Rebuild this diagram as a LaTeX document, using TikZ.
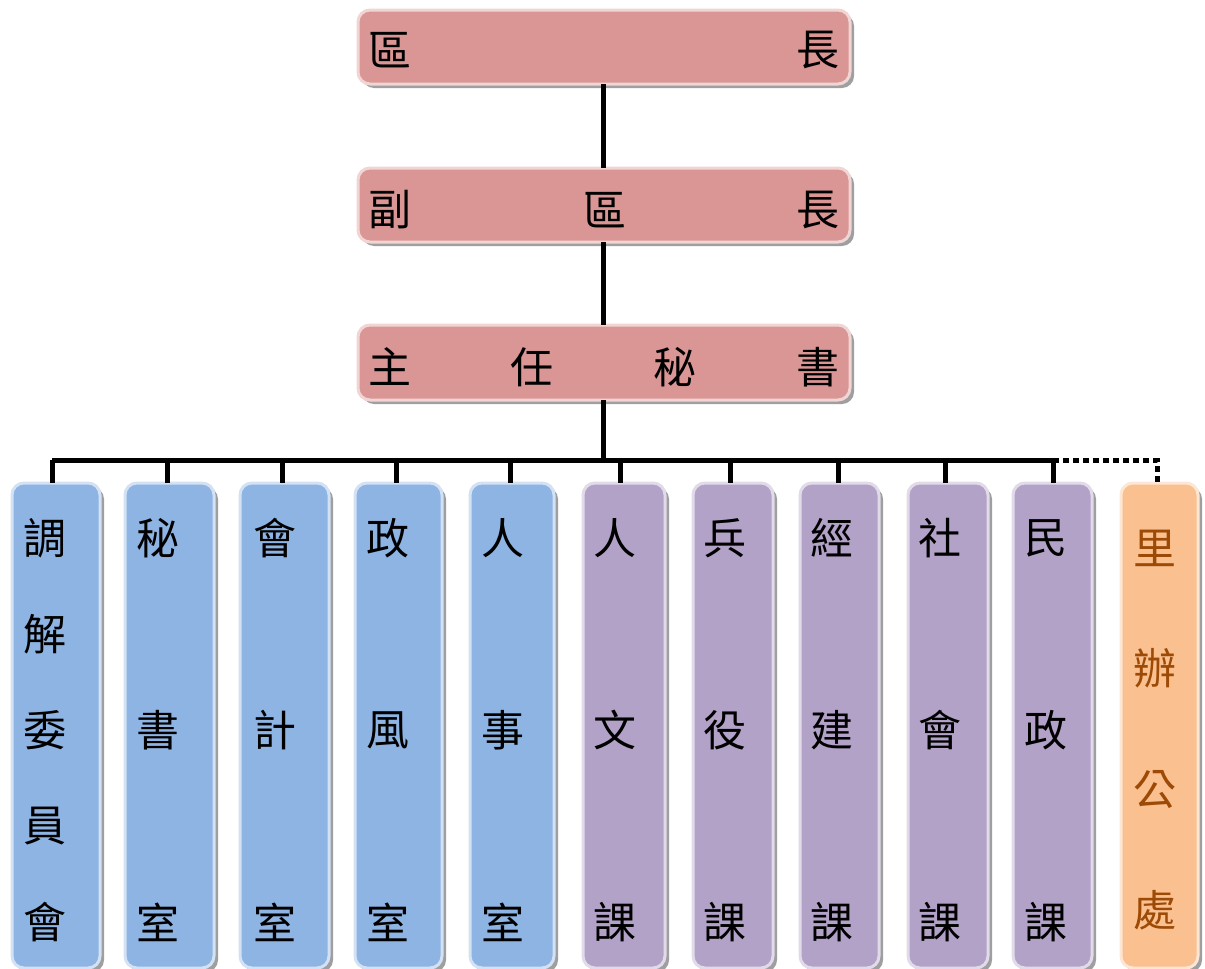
\documentclass[tikz,border=0pt]{standalone}
\usepackage{fontspec}
\newfontfamily\cjk{Noto Sans CJK TC}
\definecolor{cred}{HTML}{D99694}
\definecolor{cblue}{HTML}{8EB4E3}
\definecolor{cpurp}{HTML}{B3A2C7}
\definecolor{corng}{HTML}{FAC090}
\definecolor{ctxt}{HTML}{9C4A06}
\begin{document}
\begin{tikzpicture}[x=0.5pt,y=-0.5pt,
  cjkt/.style={font=\cjk\fontsize{21.5}{24}\selectfont, inner sep=0pt, anchor=center},
  bus/.style={line width=2.5pt},
  dotbus/.style={line width=2.5pt, dash pattern=on 3pt off 2pt}]
\useasboundingbox (0,0) rectangle (1205,969);
% box macro
\newcommand{\mybox}[6]{% name, x1,y1,x2,y2, color
  \fill[gray!75, rounded corners=6pt] (#2+4,#3+4) rectangle (#4+4,#5+4);
  \draw[#6!40!white, line width=1.5pt, fill=#6, rounded corners=6pt] (#2,#3) rectangle (#4,#5);
  \coordinate (#1) at ({(#2+#4)/2},#3);
  \coordinate (#1b) at ({(#2+#4)/2},#5);
}
% top boxes
\mybox{b1}{358}{10}{850}{84}{cred}
\mybox{b2}{358}{168}{850}{242}{cred}
\mybox{b3}{358}{325}{850}{400}{cred}
\node[cjkt] (t11) at (390,50) {區};
\node[cjkt] (t12) at (818,50) {長};
\node[cjkt] (t21) at (390,210) {副};
\node[cjkt] (t22) at (605,210) {區};
\node[cjkt] (t23) at (818,210) {長};
\node[cjkt] (t31) at (390,367) {主};
\node[cjkt] (t32) at (532,367) {任};
\node[cjkt] (t33) at (675,367) {秘};
\node[cjkt] (t34) at (818,367) {書};
% connectors between top boxes
\coordinate (v1) at (603,84);
\coordinate (v2) at (603,168);
\coordinate (v3) at (603,242);
\coordinate (v4) at (603,325);
\coordinate (v5) at (603,400);
\coordinate (vb) at (603,460);
\draw[bus] (v1) -- (v2);
\draw[bus] (v3) -- (v4);
\draw[bus] (v5) -- (vb);
% columns
\mybox{c1}{12}{483}{100}{968}{cblue}
\mybox{c2}{125}{483}{214}{968}{cblue}
\mybox{c3}{240}{483}{329}{968}{cblue}
\mybox{c4}{355}{483}{442}{968}{cblue}
\mybox{c5}{470}{483}{554}{968}{cblue}
\mybox{c6}{583}{483}{665}{968}{cpurp}
\mybox{c7}{693}{483}{773}{968}{cpurp}
\mybox{c8}{800}{483}{879}{968}{cpurp}
\mybox{c9}{908}{483}{988}{968}{cpurp}
\mybox{c10}{1013}{483}{1092}{968}{cpurp}
\mybox{c11}{1121}{483}{1198}{968}{corng}
% bus
\coordinate (h1) at (52,460);
\coordinate (h10) at (1053,460);
\coordinate (h11) at (1157,460);
\draw[bus] (h1) -- (h10);
\foreach \x/\n in {52/1,167/2,282/3,396/4,510/5,620/6,730/7,838/8,945/9,1053/10}{
  \coordinate (d\n) at (\x,460);
  \coordinate (e\n) at (\x,483);
  \draw[bus] (d\n) -- (e\n);
}
\coordinate (e11) at (1157,483);
\draw[dotbus] (h10) -- (h11) -- (e11);
% column texts
\foreach \ch [count=\i] in {調,解,委,員,會}{
  \node[cjkt] (a\i) at (45,{538+96*(\i-1)}) {\ch};}
\foreach \x/\n/\a/\b/\c in {158/2/秘/書/室, 275/3/會/計/室, 388/4/政/風/室, 503/5/人/事/室,
  615/6/人/文/課, 725/7/兵/役/課, 832/8/經/建/課, 940/9/社/會/課, 1046/10/民/政/課}{
  \node[cjkt] (p\n a) at (\x,538) {\a};
  \node[cjkt] (p\n b) at (\x,730) {\b};
  \node[cjkt] (p\n c) at (\x,922) {\c};
}
\node[cjkt,text=ctxt] (r1) at (1155,548) {里};
\node[cjkt,text=ctxt] (r2) at (1155,668) {辦};
\node[cjkt,text=ctxt] (r3) at (1155,790) {公};
\node[cjkt,text=ctxt] (r4) at (1155,910) {處};
\end{tikzpicture}
\end{document}
